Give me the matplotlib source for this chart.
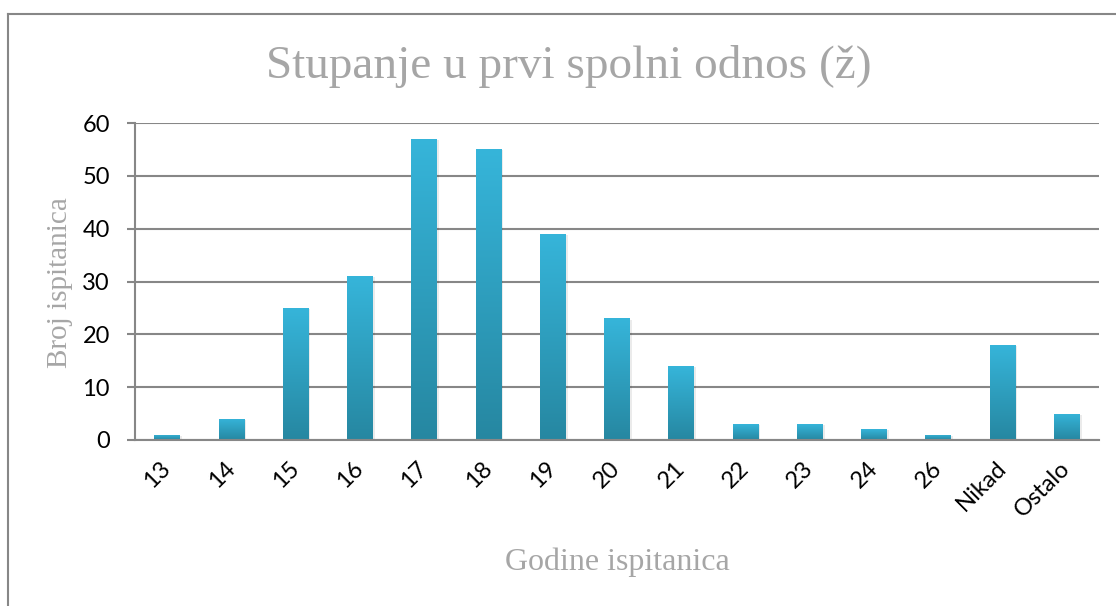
import numpy as np
import matplotlib.pyplot as plt
from matplotlib.colors import LinearSegmentedColormap
from matplotlib.lines import Line2D

categories = ["13", "14", "15", "16", "17", "18", "19", "20", "21", "22", "23", "24", "26", "Nikad", "Ostalo"]
counts = [1, 4, 25, 31, 57, 55, 39, 23, 14, 3, 3, 2, 1, 18, 5]
yticks = [0, 10, 20, 30, 40, 50, 60]

title = "Stupanje u prvi spolni odnos (ž)"
xlabel = "Godine ispitanica"
ylabel = "Broj ispitanica"

grey = "#878787"
label_grey = "#A6A6A6"

fig = plt.figure(figsize=(11.16, 6.06), dpi=100)
ax = fig.add_axes([135/1116, 1-440/606, (1099-135)/1116, (440-123)/606])

# outer chart frame (only left and top edges visible)
fig.add_artist(Line2D([8/1116, 8/1116], [0, 1-14/606], transform=fig.transFigure, color=grey, lw=1.5))
fig.add_artist(Line2D([8/1116, 1], [1-14/606, 1-14/606], transform=fig.transFigure, color=grey, lw=1.5))

x = np.arange(len(categories))
bars = ax.bar(x, counts, width=0.4, color="none", zorder=3)

cmap = LinearSegmentedColormap.from_list("bar", ["#2687A1", "#36B5DA"])
grad = np.linspace(0, 1, 256).reshape(-1, 1)
for b in bars:
    x0, w, h = b.get_x(), b.get_width(), b.get_height()
    # soft shadow
    ax.add_patch(plt.Rectangle((x0 + 0.03, -0.4), w, h + 0.2, color="#000000", alpha=0.08, lw=0, zorder=2))
    im = ax.imshow(grad, cmap=cmap, origin="lower", extent=(x0, x0 + w, 0, h), aspect="auto", zorder=3)
    im.set_clip_path(b)

ax.set_xlim(-0.5, len(categories) - 0.5)
ax.set_ylim(0, 60)
ax.set_yticks(yticks)
ax.yaxis.grid(True, color=grey, lw=1.5, zorder=1)
ax.set_axisbelow(True)

for s in ["top", "right"]:
    ax.spines[s].set_visible(False)
ax.spines["left"].set_color(grey)
ax.spines["left"].set_linewidth(1.5)
ax.spines["bottom"].set_color(grey)
ax.spines["bottom"].set_linewidth(1.5)
ax.spines["bottom"].set_zorder(4)

ax.tick_params(axis="y", length=6, width=1.5, color=grey, pad=12, labelsize=17)
ax.tick_params(axis="x", length=0, pad=18, labelsize=17)
ax.set_xticks(x)
ax.set_xticklabels(categories, rotation=45, ha="right", va="center", rotation_mode="anchor")
for t in ax.get_xticklabels() + ax.get_yticklabels():
    t.set_fontfamily("Lato")

fig.text(569/1116, 1-67/606, title, ha="center", va="center", fontsize=34,
         family="Liberation Serif", color=label_grey)
fig.text(617/1116, 1-562/606, xlabel, ha="center", va="center", fontsize=23,
         family="Liberation Serif", color=label_grey)
fig.text(60/1116, 1-283/606, ylabel, ha="center", va="center", fontsize=21, rotation=90,
         family="Liberation Serif", color=label_grey)

fig.savefig("out.png", dpi=100)
